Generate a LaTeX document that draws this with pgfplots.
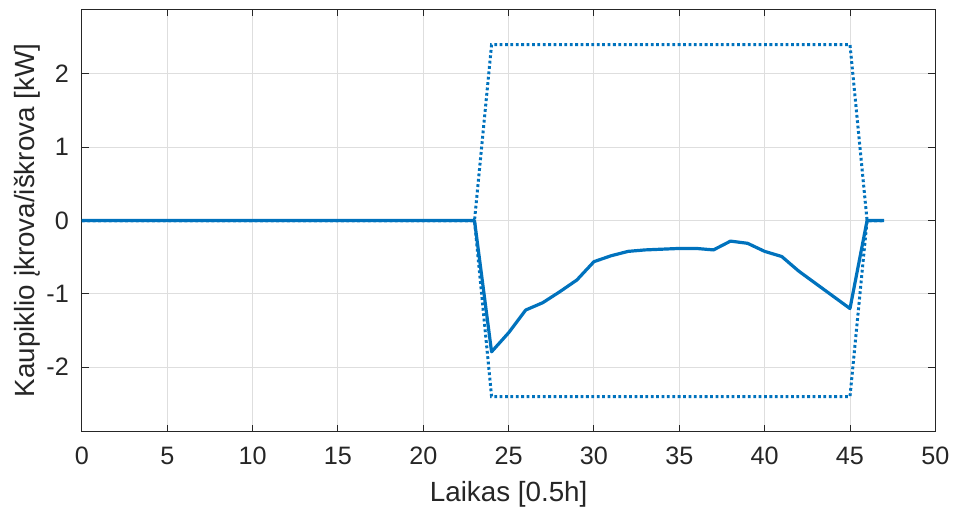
\documentclass[border=0pt]{standalone}
\usepackage{pgfplots}
\pgfplotsset{compat=1.18}
\usepackage{fontspec}
\setmainfont{Liberation Sans}
\definecolor{mblue}{rgb}{0,0.447,0.741}
\definecolor{axgray}{rgb}{0.15,0.15,0.15}
\begin{document}
\begin{tikzpicture}
\begin{axis}[
  scale only axis,
  width=427pt, height=211.25pt,
  xmin=0, xmax=50, ymin=-2.88, ymax=2.88,
  xtick={0,5,...,50}, ytick={-2,-1,0,1,2},
  tick align=inside, major tick length=3.5pt,
  xtick pos=both, ytick pos=both,
  grid=major,
  major grid style={line width=0.5pt, draw=black!13},
  axis line style={draw=axgray, line width=0.5pt},
  tick style={draw=axgray, line width=0.5pt},
  /pgf/number format/assume math mode=true,
  ticklabel style={font=\fontsize{12.6}{15}\selectfont, text=axgray},
  xticklabel style={yshift=-4pt},
  yticklabel style={xshift=-3pt},
  xlabel={Laikas [0.5h]},
  ylabel={Kaupiklio įkrova/iškrova [kW]},
  label style={font=\fontsize{13.9}{16}\selectfont, text=axgray},
  x label style={at={(axis description cs:0.5,-0.149)}, anchor=center},
  y label style={at={(axis description cs:-0.0644,0.5)}, anchor=center, rotate=0},
]
\addplot[mblue, line width=1.5pt, dash pattern=on 1.4pt off 1.3pt] coordinates {
(0,0)(23,0)(24,2.4)(45,2.4)(46,0)(47,0)};
\addplot[mblue, line width=1.5pt, dash pattern=on 1.4pt off 1.3pt] coordinates {
(0,0)(23,0)(24,-2.4)(45,-2.4)(46,0)(47,0)};
\addplot[mblue, line width=1.6pt, line join=round] coordinates {
(0,0)(1,0)(2,0)(3,0)(4,0)(5,0)(6,0)(7,0)(8,0)(9,0)(10,0)(11,0)(12,0)(13,0)(14,0)(15,0)(16,0)(17,0)(18,0)(19,0)(20,0)(21,0)(22,0)(23,0)
(24,-1.79)(25,-1.53)(26,-1.22)(27,-1.12)(28,-0.97)(29,-0.81)(30,-0.56)(31,-0.48)(32,-0.42)(33,-0.40)(34,-0.39)(35,-0.38)(36,-0.38)(37,-0.40)(38,-0.28)(39,-0.31)(40,-0.42)(41,-0.49)(42,-0.69)(43,-0.86)(44,-1.03)(45,-1.20)(46,0)(47,0)};
\end{axis}
\path ([xshift=-41pt,yshift=-43.5pt]current axis.south west) rectangle ([xshift=10pt,yshift=4.75pt]current axis.north east);
\end{tikzpicture}
\end{document}
